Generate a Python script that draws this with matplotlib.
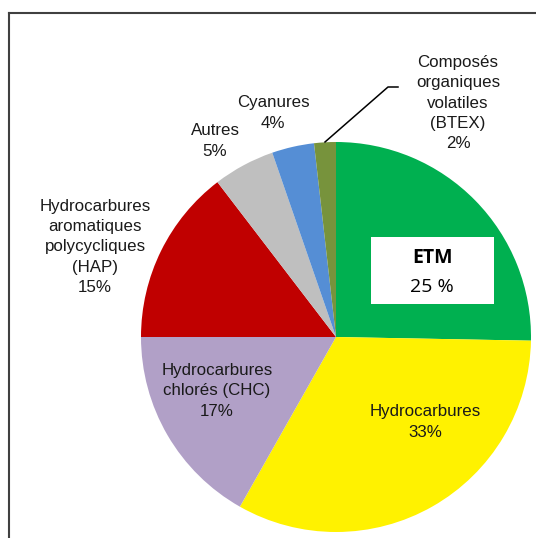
import matplotlib
matplotlib.use("Agg")
import matplotlib.pyplot as plt
from matplotlib.lines import Line2D

plt.rcParams['font.family'] = ['Liberation Sans', 'DejaVu Sans']

# data (clockwise from 12 o'clock)
labels = ["ETM", "Hydrocarbures", "Hydrocarbures\nchlorés (CHC)",
          "Hydrocarbures\naromatiques\npolycycliques\n(HAP)", "Autres",
          "Cyanures", "Composés\norganiques\nvolatiles\n(BTEX)"]
values = [25.3, 32.9, 16.8, 14.6, 5.1, 3.5, 1.8]
colors = ["#00B050", "#FFF200", "#B1A0C7", "#C00000", "#BFBFBF", "#558ED5", "#77933C"]

W, H = 536, 538
fig = plt.figure(figsize=(W / 100, H / 100), dpi=100)

# pie centre (336, 337) px, radius 195 px
cx, cy, r = 336, 337, 195
ax = fig.add_axes([(cx - r) / W, (H - cy - r) / H, 2 * r / W, 2 * r / H])
ax.pie(values, colors=colors, startangle=90, counterclock=False,
       wedgeprops=dict(linewidth=0), radius=1)
ax.set_xlim(-1, 1)
ax.set_ylim(-1, 1)
ax.set_aspect('equal')
ax.axis('off')


def px(x, y):
    return ((x - cx) / r, (cy - y) / r)


pcts = [f"{v:.0f}%" for v in values]
fs = 12.2

# label positions in pixels (centre of text block)
pos = [None, (425, 422), (217, 391), (95, 247), (215, 141), (273, 113), (458, 103)]
for i in range(1, len(labels)):
    x, y = px(*pos[i])
    ax.text(x, y, labels[i] + "\n" + pcts[i], ha='center', va='center',
            fontsize=fs, linespacing=1.43, color="#1a1a1a", clip_on=False)

# ETM label in a white box
bx0, by0 = px(371, 304)
bx1, by1 = px(494, 237)
ax.add_patch(plt.Rectangle((bx0, by0), bx1 - bx0, by1 - by0, facecolor='white',
                           edgecolor='none', zorder=3))
x, y = px(432, 258)
ax.text(x, y, labels[0], ha='center', va='center', fontsize=14,
        fontweight='bold', family=['Open Sans', 'DejaVu Sans'], zorder=4)
x, y = px(432, 287)
ax.text(x, y, pcts[0].replace("%", " %"), ha='center', va='center', fontsize=14,
        family=['Open Sans', 'DejaVu Sans'], zorder=4)

# leader line for BTEX
lx = [px(398, 87)[0], px(388, 87)[0], px(325, 142)[0]]
ly = [px(398, 87)[1], px(388, 87)[1], px(325, 142)[1]]
ax.plot(lx, ly, color='black', lw=1.1, clip_on=False)

# chart frame (left and top edges visible)
fig.add_artist(Line2D([9 / W, 9 / W], [0, 1 - 13 / H], color='#404040', lw=1.5))
fig.add_artist(Line2D([9 / W, 1], [1 - 13 / H, 1 - 13 / H], color='#404040', lw=1.5))

fig.savefig("out.png", dpi=100)
